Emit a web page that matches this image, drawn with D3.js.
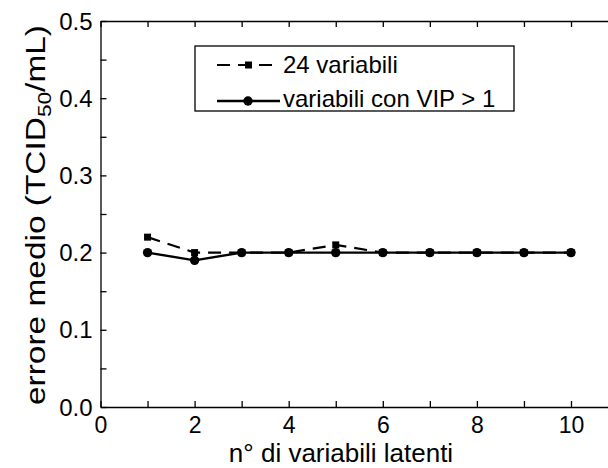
<!DOCTYPE html>
<html>
<head>
<meta charset="utf-8">
<script src="https://cdn.jsdelivr.net/npm/d3@7"></script>
<style>
html,body{margin:0;padding:0;background:#fff;}
svg{display:block;font-family:"Liberation Sans",Arial,sans-serif;}
</style>
</head>
<body>
<svg id="chart" width="608" height="468"></svg>
<script>
const latentVars = [1, 2, 3, 4, 5, 6, 7, 8, 9, 10];
const err24 = [0.22, 0.20, 0.20, 0.20, 0.21, 0.20, 0.20, 0.20, 0.20, 0.20];
const errVIP = [0.20, 0.19, 0.20, 0.20, 0.20, 0.20, 0.20, 0.20, 0.20, 0.20];
const xTickLabels = [0, 2, 4, 6, 8, 10];
const yTickLabels = [0.0, 0.1, 0.2, 0.3, 0.4, 0.5];
const seriesNames = ["24 variabili", "variabili con VIP > 1"];

(function () {
const svg = d3.select("#chart");
const pLeft = 100.5, pTop = 21, pBottom = 407, unit = 47.05;
const xMax = (608 - pLeft) / unit;
const x = d3.scaleLinear().domain([0, xMax]).range([pLeft, 608]);
const y = d3.scaleLinear().domain([0, 0.5]).range([pBottom, pTop]);

// bottom axis (ticks inward)
const xAxis = d3.axisBottom(x).tickValues(d3.range(0, 11)).tickSize(-6).tickSizeOuter(0)
  .tickFormat(d => xTickLabels.includes(d) ? d : "");
const gx = svg.append("g").attr("transform", `translate(0,${pBottom})`).call(xAxis);
gx.select(".domain").attr("stroke-width", 1.3);
gx.selectAll(".tick line").attr("stroke-width", 1.3);
gx.selectAll(".tick text").attr("font-size", 23).attr("fill", "#000").attr("dy", 0).attr("y", 26);

// top axis (ticks inward, no labels)
const xTop = d3.axisTop(x).tickValues(d3.range(0, 11)).tickSize(-6).tickSizeOuter(0).tickFormat("");
const gt = svg.append("g").attr("transform", `translate(0,${pTop})`).call(xTop);
gt.select(".domain").attr("stroke-width", 1.3);
gt.selectAll(".tick line").attr("stroke-width", 1.3);

// left axis
const yAxis = d3.axisLeft(y).tickValues(d3.range(0, 0.501, 0.05)).tickSize(-6).tickSizeOuter(0)
  .tickFormat(d => {
    const r = Math.round(d * 100);
    return yTickLabels.some(v => Math.round(v * 100) === r) ? d3.format(".1f")(r / 100) : "";
  });
const gy = svg.append("g").attr("transform", `translate(${pLeft},0)`).call(yAxis);
gy.select(".domain").attr("stroke-width", 1.3);
gy.selectAll(".tick line").attr("stroke-width", 1.3);
gy.selectAll(".tick text").attr("font-size", 24).attr("fill", "#000").attr("x", -8).attr("dy", "0.34em");

// axis titles
svg.append("text").attr("x", 341).attr("y", 462).attr("text-anchor", "middle")
  .attr("font-size", 26).text("n° di variabili latenti");
const ytG = svg.append("g");
const yt = ytG.append("text").attr("text-anchor", "middle").attr("font-size", 28);
yt.append("tspan").text("errore medio (TCID");
yt.append("tspan").attr("font-size", 19).attr("dy", 6).text("50");
yt.append("tspan").attr("dy", -6).text("/mL)");
const natural = yt.node().getComputedTextLength();
const sx = 380 / natural;
ytG.attr("transform", `translate(45,215) rotate(-90) scale(${sx},1)`);

// lines
const line = d3.line().x((d, i) => x(latentVars[i])).y(d => y(d));
svg.append("path").datum(err24).attr("d", line).attr("fill", "none")
  .attr("stroke", "#000").attr("stroke-width", 2.2).attr("stroke-dasharray", "13,8");
svg.append("g").selectAll("rect").data(err24).join("rect")
  .attr("x", (d, i) => x(latentVars[i]) - 3.5).attr("y", d => y(d) - 3.5)
  .attr("width", 7).attr("height", 7).attr("fill", "#000");

svg.append("path").datum(errVIP).attr("d", line).attr("fill", "none")
  .attr("stroke", "#000").attr("stroke-width", 2.4);
svg.append("g").selectAll("circle").data(errVIP).join("circle")
  .attr("cx", (d, i) => x(latentVars[i])).attr("cy", d => y(d)).attr("r", 4.7).attr("fill", "#000");

// legend
const lg = svg.append("g");
lg.append("rect").attr("x", 195).attr("y", 46).attr("width", 319).attr("height", 65)
  .attr("fill", "#fff").attr("stroke", "#000").attr("stroke-width", 1.3);
const rows = [65, 101];
const textBase = [73, 107];
lg.append("line").attr("x1", 217).attr("x2", 280).attr("y1", rows[0]).attr("y2", rows[0])
  .attr("stroke", "#000").attr("stroke-width", 2.2).attr("stroke-dasharray", "13,8");
lg.append("rect").attr("x", 245).attr("y", rows[0] - 3.5).attr("width", 7).attr("height", 7).attr("fill", "#000");
lg.append("line").attr("x1", 217).attr("x2", 280).attr("y1", rows[1]).attr("y2", rows[1])
  .attr("stroke", "#000").attr("stroke-width", 2.4);
lg.append("circle").attr("cx", 248).attr("cy", rows[1]).attr("r", 4.7).attr("fill", "#000");
seriesNames.forEach((n, i) => {
  lg.append("text").attr("x", 283).attr("y", textBase[i]).attr("font-size", 24).text(n);
});
})();
</script>
</body>
</html>
